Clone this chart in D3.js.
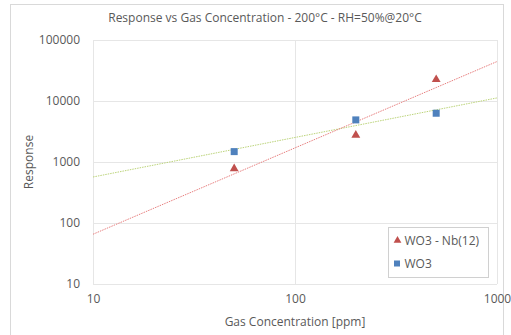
<!DOCTYPE html>
<html>
<head>
<meta charset="utf-8">
<script src="https://cdn.jsdelivr.net/npm/d3@7"></script>
<style>
  body { margin: 0; background: #fff; }
  text { font-family: "Open Sans", "Noto Sans", sans-serif; fill: #595959; }
</style>
</head>
<body>
<svg id="chart"></svg>
<script>
// data
const concentrations = [50, 200, 500];
const nbResponse = [780, 2750, 22500];
const wo3Response = [1480, 4900, 6300];
const xTicks = [10, 100, 1000];
const yTicks = [10, 100, 1000, 10000, 100000];
const seriesNames = ["WO3 - Nb(12)", "WO3"];

const width = 511, height = 335;
const margin = { top: 40, right: 14, bottom: 51, left: 93 };
const innerW = width - margin.left - margin.right;
const innerH = height - margin.top - margin.bottom;

const svg = d3.select("#chart")
  .attr("width", width)
  .attr("height", height);

// outer chart frame
svg.append("rect")
  .attr("x", 10.5).attr("y", 4.5)
  .attr("width", 493).attr("height", 340)
  .attr("fill", "none")
  .attr("stroke", "#d9d9d9");

const chart = svg.append("g")
  .attr("transform", `translate(${margin.left}, ${margin.top})`);

const xScale = d3.scaleLog().domain([10, 1000]).range([0, innerW]);
const yScale = d3.scaleLog().domain([10, 100000]).range([innerH, 0]);

// gridlines
chart.selectAll(".hgrid")
  .data(yTicks)
  .join("line")
  .attr("x1", 0).attr("x2", innerW)
  .attr("y1", d => Math.round(yScale(d)) + 0.5)
  .attr("y2", d => Math.round(yScale(d)) + 0.5)
  .attr("stroke", "#e6e6e6");
chart.selectAll(".vgrid")
  .data(xTicks)
  .join("line")
  .attr("y1", 0).attr("y2", innerH)
  .attr("x1", d => Math.round(xScale(d)) + 0.5)
  .attr("x2", d => Math.round(xScale(d)) + 0.5)
  .attr("stroke", "#e6e6e6");

// axes (labels only)
const xAxis = d3.axisBottom(xScale).tickValues(xTicks).tickFormat(d3.format("d")).tickSize(0).tickPadding(10);
const yAxis = d3.axisLeft(yScale).tickValues(yTicks).tickFormat(d3.format("d")).tickSize(0).tickPadding(13);
chart.append("g")
  .attr("transform", `translate(0, ${innerH})`)
  .call(xAxis)
  .call(g => g.select(".domain").remove());
chart.append("g")
  .call(yAxis)
  .call(g => g.select(".domain").remove());
chart.selectAll(".tick text")
  .style("font-size", "12px")
  .attr("fill", "#595959");

// power trendlines (least squares in log-log space)
function powerFit(xs, ys) {
  const lx = xs.map(Math.log10), ly = ys.map(Math.log10);
  const mx = d3.mean(lx), my = d3.mean(ly);
  const slope = d3.sum(lx, (v, i) => (v - mx) * (ly[i] - my)) / d3.sum(lx, v => (v - mx) ** 2);
  return x => Math.pow(10, my + slope * (Math.log10(x) - mx));
}
const fitNb = powerFit(concentrations, nbResponse);
const fitWo3 = powerFit(concentrations, wo3Response);
const line = d3.line().x(d => xScale(d[0])).y(d => yScale(d[1]));

chart.append("path")
  .attr("d", line(xTicks.map(x => [x, fitWo3(x)])))
  .attr("fill", "none")
  .attr("stroke", "#bcd47a")
  .attr("stroke-width", 1)
  .attr("stroke-dasharray", "1.5,1");
chart.append("path")
  .attr("d", line(xTicks.map(x => [x, fitNb(x)])))
  .attr("fill", "none")
  .attr("stroke", "#e88080")
  .attr("stroke-width", 1)
  .attr("stroke-dasharray", "1.5,1");

// markers
const triangle = d3.symbol().type(d3.symbolTriangle).size(34);
chart.selectAll(".nb")
  .data(concentrations)
  .join("path")
  .attr("d", triangle)
  .attr("transform", (d, i) => `translate(${xScale(d)}, ${yScale(nbResponse[i])})`)
  .attr("fill", "#c0504d");

chart.selectAll(".wo3")
  .data(concentrations)
  .join("rect")
  .attr("x", d => xScale(d) - 3.5)
  .attr("y", (d, i) => yScale(wo3Response[i]) - 3.5)
  .attr("width", 7)
  .attr("height", 7)
  .attr("fill", "#4f81bd");

// legend
const legend = svg.append("g").attr("transform", "translate(388.5, 227.5)");
legend.append("rect")
  .attr("width", 100).attr("height", 50)
  .attr("fill", "#fff")
  .attr("stroke", "#d0d0d0");
legend.append("path")
  .attr("d", d3.symbol().type(d3.symbolTriangle).size(26))
  .attr("transform", "translate(9, 13)")
  .attr("fill", "#c0504d");
legend.append("rect")
  .attr("x", 5.5).attr("y", 33)
  .attr("width", 6).attr("height", 6)
  .attr("fill", "#4f81bd");
legend.selectAll(".ltext")
  .data(seriesNames)
  .join("text")
  .attr("x", 16)
  .attr("y", (d, i) => 13 + i * 23)
  .attr("dy", "0.35em")
  .style("font-size", "12px")
  .text(d => d);

// titles
svg.append("text")
  .attr("x", 265).attr("y", 22)
  .attr("text-anchor", "middle")
  .style("font-size", "12px")
  .text("Response vs Gas Concentration - 200°C - RH=50%@20°C");

svg.append("text")
  .attr("x", margin.left + innerW / 2).attr("y", 326)
  .attr("text-anchor", "middle")
  .style("font-size", "12px")
  .text("Gas Concentration [ppm]");

svg.append("text")
  .attr("transform", "translate(33, 162) rotate(-90)")
  .attr("text-anchor", "middle")
  .style("font-size", "12px")
  .text("Response");
</script>
</body>
</html>
